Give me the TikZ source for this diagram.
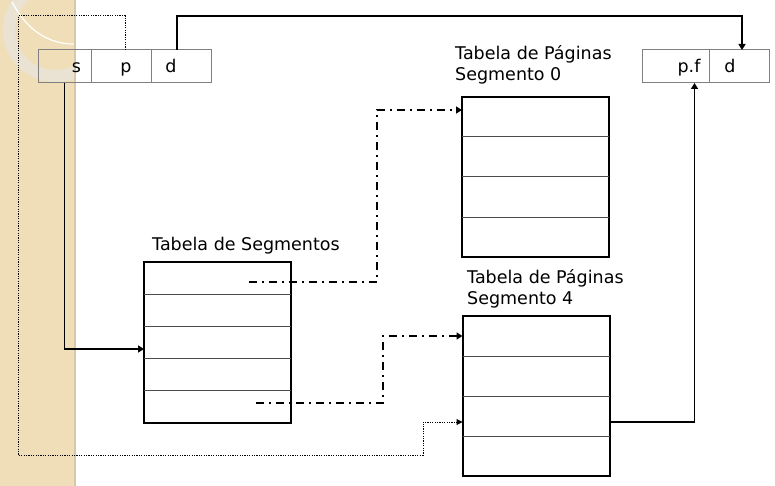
\documentclass[tikz,border=0pt]{standalone}
\usepackage{fontspec}
\setmainfont{DejaVu Sans}
\usepackage{tikz}
\usetikzlibrary{arrows.meta}
\usetikzlibrary{positioning}
\usetikzlibrary{calc}
\definecolor{strip}{RGB}{240,222,184}
\definecolor{stripedge}{RGB}{214,200,170}
\definecolor{ring}{RGB}{233,229,218}
\tikzstyle{cell}=[draw=gray,line width=1pt,minimum height=33pt,inner sep=0pt,outer sep=0pt]
\tikzstyle{tabela}=[draw,line width=2pt,inner sep=0pt,outer sep=0pt,minimum width=147pt]
\tikzstyle{lbl}=[inner sep=0pt,font=\fontsize{17.5}{21}\selectfont]

\begin{document}
\begin{tikzpicture}[
  x=1pt,y=-1pt,
  row/.style={line width=1pt,draw=black!70},
  solidarrow/.style={line width=1.6pt,-{Triangle[length=6pt,width=7pt]}},
  dashdot/.style={line width=2.2pt,dash pattern=on 8pt off 5pt on 2pt off 5pt,-{Triangle[length=6pt,width=7pt]}},
  dotarrow/.style={line width=1pt,dash pattern=on 1.2pt off 1.2pt,-{Triangle[length=6pt,width=6pt]}},
]
  \useasboundingbox (0,0) rectangle (775,486);
  % background strip
  \fill[strip] (0,0) rectangle (75,486);
  \draw[stripedge,line width=1.5pt] (75,0) -- (75,486);
  \begin{scope}
    \clip (0,0) rectangle (74,486);
    \draw[ring,opacity=.85,line width=12pt] (55,30) circle (46pt);
    \draw[white,line width=1.2pt] (12,2) .. controls (28,32) and (50,44) .. (74,44);
  \end{scope}

  % logical address
  \node[cell,minimum width=53pt] (cs) at (64.5,66.5) {};
  \node[cell,minimum width=60pt,right=0pt of cs] (cp) {};
  \node[cell,minimum width=60pt,right=0pt of cp] (cd) {};
  \node[lbl,anchor=base] (ls) at (76.5,73) {s};
  \node[lbl,anchor=base] (lp) at (126,73) {p};
  \node[lbl,anchor=base] (ld) at (171,73) {d};

  % physical address
  \node[cell,minimum width=67pt] (pfp) at (675.5,66.5) {};
  \node[cell,minimum width=60pt,right=0pt of pfp] (pfd) {};
  \node[lbl,anchor=base] (lpf) at (689,73) {p.f};
  \node[lbl,anchor=base] (lpd) at (730,73) {d};

  % tables
  \node[tabela,minimum height=161pt] (seg) at (217.5,342.5) {};
  \foreach \i in {1,...,4}
    \draw[row] ($(seg.north west)!\i/5!(seg.south west)$) -- ($(seg.north east)!\i/5!(seg.south east)$);
  \node[tabela,minimum height=160pt] (pag0) at (535.5,177) {};
  \node[tabela,minimum height=160pt] (pag4) at (536,396) {};
  \foreach \t in {pag0,pag4}
    \foreach \i in {1,2,3}
      \draw[row] ($(\t.north west)!\i/4!(\t.south west)$) -- ($(\t.north east)!\i/4!(\t.south east)$);

  \node[lbl,anchor=base west] (tseg) at (152,250) {Tabela de Segmentos};
  \node[lbl,anchor=base west,align=left] (tpag0) at (455,81) {Tabela de Páginas\\Segmento 0};
  \node[lbl,anchor=base west,align=left] (tpag4) at (467,304) {Tabela de Páginas\\Segmento 4};

  % connectors
  \coordinate (toplane) at (0,16);
  \coordinate (leftlane) at (18,0);
  \coordinate (botlane) at (423,455);
  \coordinate (seg1) at (249,282);
  \coordinate (seg5) at (256,403);

  \draw[solidarrow] ([xshift=-4pt]cd.north) -- ([xshift=-4pt]cd.north |- toplane)
    -- ([xshift=3pt]pfd.north |- toplane) -- ([xshift=3pt]pfd.north);
  \draw[solidarrow] (cs.south) |- ([yshift=-6.5pt]seg.west);
  \draw[dashdot] (seg1) -- ++(128,0) |- ([yshift=-13pt]pag0.north west);
  \draw[dashdot] (seg5) -- ++(127,0) |- ([yshift=-20pt]pag4.north west);
  \draw[dotarrow] ([xshift=4pt]cp.north) -- ([xshift=4pt]cp.north |- toplane)
    -- (leftlane |- toplane) -- (leftlane |- botlane) -- (botlane)
    |- ([yshift=-106pt]pag4.north west);
  \draw[solidarrow] ([yshift=-106pt]pag4.north east) -| ([xshift=19pt]pfp.south);
\end{tikzpicture}
\end{document}
